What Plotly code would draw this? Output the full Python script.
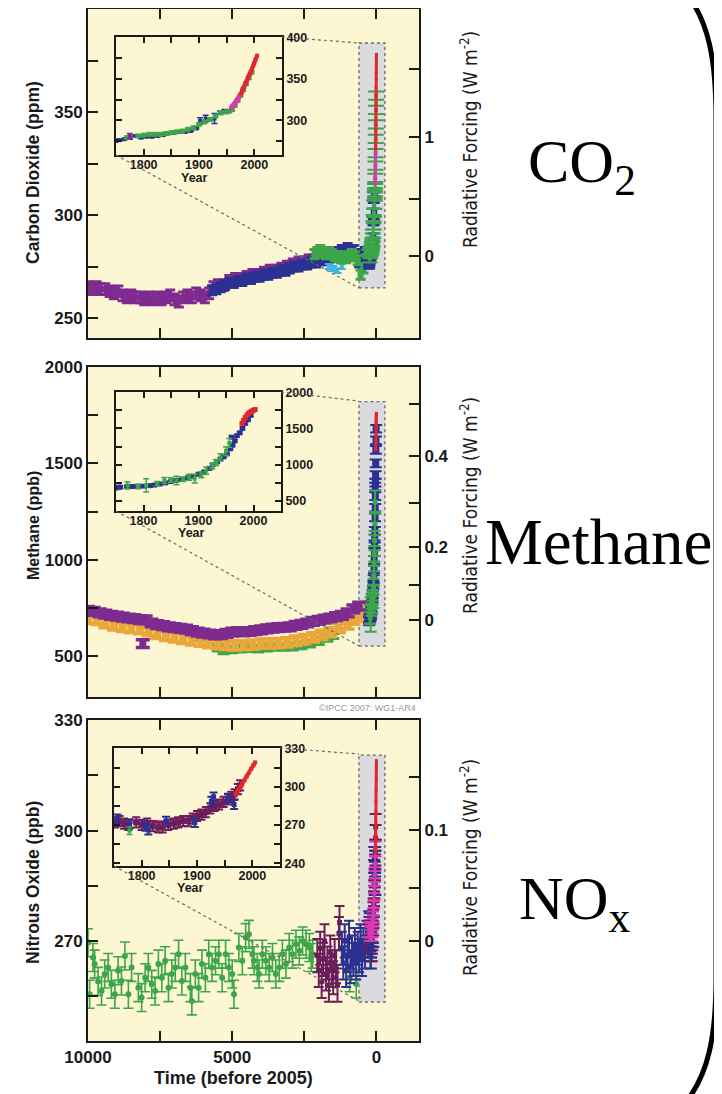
import plotly.graph_objects as go

# The page body has an 8px margin; the figure is sized to fill the rest of the window.
OX, OY = 8, 8
W, H = 722 - OX, 1094 - OY


def fx(p):
    return (p - OX) / W


def fy(p):
    return 1 - (p - OY) / H


# ======================= DATA =======================
# --- Carbon dioxide, Holocene (years before 2005, ppm)
co2_purple_bp = [10000, 9850, 9700, 9550, 9400, 9250, 9100, 8950, 8800, 8650, 8500, 8350, 8200, 8050,
                 7900, 7750, 7600, 7450, 7300, 7150, 7000, 6850, 6700, 6550, 6400, 6250, 6100, 5950,
                 5800, 5650, 5500, 5300, 5100, 4900, 4700, 4500, 4300, 4100, 3900, 3700, 3500, 3300,
                 3100, 2900, 2700, 2500, 2350, 2200]
co2_purple = [265, 264, 265, 264, 264, 263, 262, 263, 261, 260, 261, 260, 260, 259,
              260, 259, 260, 259, 260, 261, 259, 258, 260, 261, 260, 262, 261, 260,
              262, 265, 266, 266, 268, 269, 269, 270, 271, 271, 272, 273, 273, 274,
              275, 276, 277, 277, 278, 278]
co2_blue_bp = [5700, 5550, 5400, 5250, 5100, 4950, 4800, 4650, 4500, 4350, 4200, 4050, 3900, 3750,
               3600, 3450, 3300, 3150, 3000, 2850, 2700, 2550, 2400, 2250, 2100, 1950, 1800, 1650,
               1500, 1400, 1300, 1200, 1100, 1000, 900, 800, 700, 600, 500, 400, 300]
co2_blue = [263.5, 264, 265, 266, 267, 267, 268, 268, 269, 269, 270, 270, 271, 271,
            272, 272, 273, 273, 274, 275, 275, 276, 276, 277, 277, 278, 278, 279,
            280, 280, 282, 283, 281, 284, 282, 283, 281, 277, 280, 282, 281]
co2_green_bp = [2150, 2050, 1950, 1850, 1750, 1650, 1550, 1450, 1350, 1250, 1150, 1050, 950, 850,
                750, 650, 550, 450]
co2_green = [281, 282, 283, 282, 281, 282, 281, 280, 280, 279, 280, 279, 280, 281,
             280, 278, 271, 274]
co2_cyan_bp = [1650, 1500, 1350, 1200]
co2_cyan = [275, 274, 273, 275]

# --- Carbon dioxide, industrial era (calendar year, ppm)
co2_ld_year = [1750, 1755, 1765, 1775, 1785, 1795, 1805, 1815, 1825, 1835, 1845, 1855, 1865, 1875,
               1885, 1895, 1902, 1912, 1928, 1938, 1946]
co2_ld = [275, 276, 277, 279, 281, 279, 280, 280, 281, 282, 284, 285, 286, 286,
          287, 290, 299, 302, 302, 309, 311]
co2_ld_err = [1, 1, 1, 2, 1, 1, 1, 1, 1, 1, 1, 1, 1, 1, 1, 1, 4, 4, 6, 2, 2]
co2_gr_year = [1770, 1790, 1800, 1810, 1820, 1830, 1840, 1850, 1860, 1870, 1880, 1890, 1900, 1910,
               1920, 1930, 1940, 1950, 1955, 1960, 1965, 1970, 1975, 1980, 1985, 1990, 1995]
co2_gr = [279, 281, 282, 283, 283, 283, 284, 285, 286, 287, 289, 291, 295, 298,
          301, 305, 309, 310, 311, 313, 318, 324, 330, 337, 344, 351, 358]
co2_pu_year = [1775]
co2_pu = [281]
co2_mg_year = [1958, 1960, 1962, 1964, 1966, 1968, 1970, 1972, 1974, 1976, 1978]
co2_mg = [315, 317, 318, 319, 321, 323, 325, 327, 330, 332, 335]
co2_rd_year = [1976, 1978, 1980, 1982, 1984, 1986, 1988, 1990, 1992, 1994, 1996, 1998, 2000, 2002, 2005]
co2_rd = [332, 335, 339, 341, 344, 347, 351, 354, 356, 358, 362, 366, 369, 373, 378]

# --- Methane, Holocene (years before 2005, ppb)
ch4_purple_bp = [10000, 9800, 9600, 9400, 9200, 9000, 8800, 8600, 8400, 8200, 8000, 7800, 7600, 7400,
                 7200, 7000, 6800, 6600, 6400, 6200, 6000, 5800, 5600, 5400, 5200, 5000, 4800, 4600,
                 4400, 4200, 4000, 3800, 3600, 3400, 3200, 3000, 2800, 2600, 2400, 2200, 2000, 1800,
                 1600, 1400, 1200, 1000, 800, 600, 8100]
ch4_purple = [738, 732, 725, 718, 712, 708, 703, 698, 695, 690, 688, 672, 664, 658,
              652, 648, 644, 640, 632, 625, 620, 615, 610, 612, 618, 625, 628, 626,
              628, 632, 636, 642, 645, 648, 650, 652, 660, 665, 672, 680, 686, 692,
              698, 705, 712, 725, 745, 760, 565]
ch4_orange_bp = [10000, 9700, 9400, 9100, 8800, 8500, 8200, 7900, 7600, 7300, 7000, 6700, 6400, 6100,
                 5800, 5500, 5200, 4900, 4600, 4300, 4000, 3700, 3400, 3100, 2800, 2500, 2200, 1900,
                 1600, 1300, 1000, 800, 600, 400, 300]
ch4_orange = [695, 688, 672, 660, 652, 645, 640, 630, 615, 605, 598, 590, 582, 575,
              568, 562, 558, 556, 557, 560, 565, 566, 568, 572, 580, 588, 598, 610,
              625, 645, 665, 690, 705, 730, 760]
ch4_green_bp = [6800, 6600, 6400, 6100, 5800, 5500, 5300, 5000, 4700, 4400, 4100, 3800, 3500, 3200,
                2900, 2600, 2300, 2000, 1700, 1500]
ch4_green = [630, 625, 620, 600, 575, 545, 530, 535, 540, 542, 540, 545, 548, 548,
             550, 556, 565, 578, 595, 610]

# --- Methane, industrial era (calendar year, ppb)
ch4_bl_year = [1750, 1758, 1770, 1780, 1790, 1800, 1812, 1820, 1830, 1840, 1850, 1860, 1870, 1880,
               1890, 1900, 1910, 1920, 1926, 1934, 1940, 1946, 1952, 1958, 1962, 1966, 1970, 1975,
               1980, 1985, 1990, 1995, 1960]
ch4_bl = [680, 690, 700, 700, 705, 705, 712, 720, 735, 750, 770, 785, 800, 820,
          840, 870, 900, 950, 1000, 1040, 1080, 1110, 1150, 1220, 1270, 1330, 1400, 1440,
          1500, 1570, 1620, 1680, 1380]
ch4_gr_year = [1771, 1790, 1805, 1825, 1838, 1850, 1860, 1872, 1883, 1893, 1905, 1914, 1925, 1932,
               1940, 1950, 1956]
ch4_gr = [716, 700, 716, 740, 783, 790, 783, 800, 828, 810, 860, 918, 980, 1031,
          1100, 1188, 1300]
ch4_gr_err = [50, 30, 90, 30, 40, 30, 60, 30, 40, 60, 40, 50, 40, 40, 50, 60, 60]
ch4_rd_year = [1979, 1982, 1985, 1988, 1991, 1994, 1997, 2000, 2003]
ch4_rd = [1570, 1610, 1650, 1685, 1710, 1725, 1740, 1750, 1760]
ch4_pu_year = [1750, 1755]
ch4_pu = [685, 692]

# --- Nitrous oxide, Holocene (years before 2005, ppb)
n2o_green_bp = [10000, 9945, 9825, 9770, 9650, 9530, 9420, 9300, 9190, 9070, 8955, 8840, 8720, 8600,
                8490, 8255, 8140, 8020, 7910, 7790, 7675, 7560, 7440, 7325, 7210, 7095, 6975, 6860,
                6745, 6625, 6450, 6400, 6280, 6165, 6050, 5930, 5815, 5700, 5580, 5465, 5350, 5230,
                5115, 5000, 4940, 4770, 4650, 4535, 4420, 4300, 4245, 4130, 4070, 3955, 3835, 3720,
                3605, 3490, 3370, 3260, 3140, 3025, 2910, 2790, 2675, 2560, 2440, 2325, 2265, 2210,
                930, 700]
n2o_green = [269.5, 255.5, 265.5, 263.7, 259.0, 256.4, 261.0, 262.8, 258.2, 255.5, 261.9, 259.1, 265.9, 255.5,
             262.8, 257.3, 254.6, 260.0, 262.8, 258.2, 256.4, 263.7, 260.0, 264.6, 257.3, 261.0, 262.8, 266.4,
             259.1, 262.8, 257.3, 253.7, 261.0, 257.3, 263.7, 260.0, 266.4, 262.8, 264.6, 266.4, 260.0, 266.4,
             262.8, 261.0, 255.5, 268.2, 264.6, 270.9, 271.8, 266.4, 264.6, 262.8, 261.0, 266.4, 264.6, 262.8,
             265.5, 261.0, 262.8, 266.4, 263.7, 268.2, 266.4, 269.1, 267.3, 270.0, 269.1, 268.2, 265.5, 266.4,
             260.0, 258.3]
n2o_maroon_bp = [2050, 2000, 1950, 1900, 1850, 1800, 1750, 1700, 1650, 1600, 1550, 1500, 1450, 1400,
                 1350, 1300, 1280]
n2o_maroon = [266, 262, 268, 259, 265, 270, 261, 264, 258, 267, 262, 260, 266, 263,
              258, 272, 275]
n2o_blue_bp = [1200, 1150, 1100, 1050, 1000, 950, 900, 850, 800, 750, 700, 650, 600, 550,
               500, 450, 400, 350, 300, 260]
n2o_blue = [268, 264, 270, 262, 266, 271, 263, 267, 265, 269, 264, 268, 266, 270,
            265, 269, 267, 271, 270, 273]

# --- Nitrous oxide, industrial era (calendar year, ppb)
n2o_pk_year = [1750, 1760, 1770, 1780, 1790, 1800, 1810, 1820, 1830, 1840, 1850, 1860, 1870, 1880,
               1890, 1900, 1910, 1920, 1930, 1940, 1950, 1960, 1970]
n2o_pk = [273, 273, 272, 273, 272, 272, 272, 272, 272, 272, 273, 273, 274, 275,
          276, 277, 279, 281, 283, 285, 288, 291, 295]
n2o_mr_year = [1752, 1760, 1768, 1776, 1790, 1800, 1810, 1820, 1830, 1838, 1848, 1858, 1866, 1875,
               1884, 1892, 1900, 1908, 1916, 1924, 1932, 1940, 1948, 1956, 1962, 1968, 1974, 1978]
n2o_mr = [272, 273, 271, 270, 272, 270, 271, 269, 268, 268, 270, 271, 272, 273,
          273, 275, 277, 278, 280, 283, 285, 286, 288, 290, 292, 294, 298, 301]
n2o_bl_year = [1756, 1778, 1807, 1812, 1844, 1896, 1926, 1930, 1956, 1967]
n2o_bl = [274.6, 270.7, 269, 266, 273, 271.8, 288.5, 292, 291, 286]
n2o_gr_year = [1778]
n2o_gr = [265.5]
n2o_rd_year = [1970, 1974, 1978, 1982, 1986, 1990, 1994, 1998, 2002, 2005]
n2o_rd = [294, 297, 299, 302, 305, 308, 311, 314, 317, 319]

# --- Axis ticks
x_tick_vals = [10000, 7500, 5000, 2500, 0]
x_tick_text = ["10000", "", "5000", "", "0"]
inset_x_vals = [1800, 1850, 1900, 1950, 2000]
inset_x_text = ["1800", "", "1900", "", "2000"]

co2_y_vals = [250, 275, 300, 325, 350, 375]
co2_y_text = ["250", "", "300", "", "350", ""]
ch4_y_vals = [500, 750, 1000, 1250, 1500, 1750, 2000]
ch4_y_text = ["500", "", "1000", "", "1500", "", "2000"]
n2o_y_vals = [255, 270, 285, 300, 315, 330]
n2o_y_text = ["", "270", "", "300", "", "330"]

# radiative forcing ticks and the concentration at which each sits on the right axis
co2_rf_labels = ["0", "", "1", ""]
co2_rf_conc = [280.1, 307.8, 337.9, 370.9]
ch4_rf_labels = ["0", "", "0.2", "", "0.4", ""]
ch4_rf_conc = [686.5, 867.9, 1064.7, 1292.7, 1536.2, 1810.8]
n2o_rf_labels = ["0", "", "0.1", ""]
n2o_rf_conc = [270.0, 284.4, 300.1, 314.5]

co2_in_vals = [275, 300, 325, 350, 375, 400]
co2_in_text = ["", "300", "", "350", "", "400"]
ch4_in_vals = [500, 750, 1000, 1250, 1500, 1750, 2000]
ch4_in_text = ["500", "", "1000", "", "1500", "", "2000"]
n2o_in_vals = [240, 255, 270, 285, 300, 315, 330]
n2o_in_text = ["240", "", "270", "", "300", "", "330"]

# ======================= STYLE =======================
PURPLE = "#7E2B8F"
BLUE = "#2B3192"
GREEN = "#3CA649"
CYAN = "#3BB4E6"
RED = "#E2282E"
MAGENTA = "#D93AAE"
ORANGE = "#EAA73A"
MAROON = "#6C1E5A"
PINK = "#E8449E"
YELLOW_BG = "#FDF6D2"
GRAY_BG = "#D9DBDF"
INK = "#1a1a1a"
SANS = "Liberation Sans, Arial, Helvetica, sans-serif"
NARROW = "Liberation Sans Narrow, Arial Narrow, DejaVu Sans Condensed, sans-serif"
SERIF = "Liberation Serif, Times New Roman, serif"

fig = go.Figure()


def bp(years):
    return [2005 - y for y in years]


def add_pts(x, y, color, xa, ya, size=5, symbol="square", err=None, ew=4, et=2,
            mode="markers", lw=2):
    tr = go.Scatter(x=x, y=y, mode=mode, xaxis=xa, yaxis=ya, showlegend=False,
                    hoverinfo="skip", cliponaxis=True,
                    marker=dict(color=color, size=size, symbol=symbol, line=dict(width=0)))
    if err is not None:
        if isinstance(err, list):
            tr.error_y = dict(type="data", array=err, color=color, thickness=et, width=ew)
        else:
            tr.error_y = dict(type="constant", value=err, color=color, thickness=et, width=ew)
    if "lines" in mode:
        tr.line = dict(color=color, width=lw)
    fig.add_trace(tr)


# ---------- Panel 1: CO2 main ----------
add_pts(co2_purple_bp, co2_purple, PURPLE, "x", "y", size=6, err=2.6, ew=5, et=3)
add_pts(co2_blue_bp, co2_blue, BLUE, "x", "y", size=6, err=2.2, ew=5, et=3)
add_pts(co2_cyan_bp, co2_cyan, CYAN, "x", "y", size=4, err=1.2, ew=4, et=2)
add_pts(co2_green_bp, co2_green, GREEN, "x", "y", size=6, err=2.2, ew=5, et=3)
add_pts(bp(co2_ld_year), co2_ld, BLUE, "x", "y", size=6, err=co2_ld_err, ew=6, et=2.5)
add_pts(bp(co2_gr_year), co2_gr, GREEN, "x", "y", size=4, err=2, ew=8, et=2)
add_pts(bp(co2_mg_year), co2_mg, MAGENTA, "x", "y", size=3, mode="lines+markers", lw=3)
add_pts(bp(co2_rd_year), co2_rd, RED, "x", "y", size=3, mode="lines+markers", lw=3)
fig.add_trace(go.Scatter(x=[None], y=[None], xaxis="x", yaxis="y2", showlegend=False))

# ---------- Panel 1: CO2 inset ----------
add_pts(co2_ld_year, co2_ld, BLUE, "x7", "y7", size=4, err=co2_ld_err, ew=3, et=1.5)
add_pts(co2_gr_year, co2_gr, GREEN, "x7", "y7", size=5, err=1.5, ew=3, et=1.5)
add_pts(co2_pu_year, co2_pu, PURPLE, "x7", "y7", size=4, err=3, ew=3, et=1.5)
add_pts(co2_mg_year, co2_mg, MAGENTA, "x7", "y7", size=4, mode="lines+markers", lw=4)
add_pts(co2_rd_year, co2_rd, RED, "x7", "y7", size=4, mode="lines+markers", lw=4)

# ---------- Panel 2: CH4 main ----------
add_pts(ch4_green_bp, ch4_green, GREEN, "x3", "y3", size=6, err=18, ew=6, et=3)
add_pts(ch4_orange_bp, ch4_orange, ORANGE, "x3", "y3", size=8, err=24, ew=7, et=3.5)
add_pts(ch4_purple_bp, ch4_purple, PURPLE, "x3", "y3", size=7, err=20, ew=7, et=3.5)
add_pts(bp(ch4_pu_year), ch4_pu, PURPLE, "x3", "y3", size=5, err=15, ew=6, et=2)
add_pts(bp(ch4_bl_year), ch4_bl, BLUE, "x3", "y3", size=7, err=20, ew=6, et=2)
add_pts(bp(ch4_gr_year), ch4_gr, GREEN, "x3", "y3", size=5, err=ch4_gr_err, ew=6, et=2)
add_pts(bp(ch4_rd_year), ch4_rd, RED, "x3", "y3", size=3, mode="lines+markers", lw=3)
fig.add_trace(go.Scatter(x=[None], y=[None], xaxis="x3", yaxis="y4", showlegend=False))

# ---------- Panel 2: CH4 inset ----------
add_pts(ch4_pu_year, ch4_pu, PURPLE, "x8", "y8", size=5, err=15, ew=3, et=1.5)
add_pts(ch4_bl_year, ch4_bl, BLUE, "x8", "y8", size=5, err=15, ew=3, et=1.5)
add_pts(ch4_gr_year, ch4_gr, GREEN, "x8", "y8", size=4, err=ch4_gr_err, ew=3, et=1.5)
add_pts(ch4_rd_year, ch4_rd, RED, "x8", "y8", size=5, mode="lines+markers", lw=4)

# ---------- Panel 3: N2O main ----------
add_pts(n2o_green_bp, n2o_green, GREEN, "x5", "y5", size=6, symbol="circle", err=3.8, ew=5, et=1.6)
add_pts(n2o_maroon_bp, n2o_maroon, MAROON, "x5", "y5", size=5, err=4.5, ew=5, et=2)
add_pts(n2o_blue_bp, n2o_blue, BLUE, "x5", "y5", size=5, err=4.5, ew=5, et=2)
add_pts(bp(n2o_gr_year), n2o_gr, GREEN, "x5", "y5", size=4, err=3, ew=5, et=1.5)
add_pts(bp(n2o_mr_year), n2o_mr, MAROON, "x5", "y5", size=5, err=3.5, ew=6, et=2)
add_pts(bp(n2o_bl_year), n2o_bl, BLUE, "x5", "y5", size=5, err=3.5, ew=6, et=2)
add_pts(bp(n2o_pk_year), n2o_pk, MAGENTA, "x5", "y5", size=4, err=2, ew=6, et=2)
add_pts(bp(n2o_rd_year), n2o_rd, RED, "x5", "y5", size=3, mode="lines+markers", lw=3)
fig.add_trace(go.Scatter(x=[None], y=[None], xaxis="x5", yaxis="y6", showlegend=False))

# ---------- Panel 3: N2O inset ----------
add_pts(n2o_pk_year, n2o_pk, PINK, "x9", "y9", size=5, mode="lines+markers", lw=4)
add_pts(n2o_mr_year, n2o_mr, MAROON, "x9", "y9", size=6, err=4, ew=4, et=2)
add_pts(n2o_bl_year, n2o_bl, BLUE, "x9", "y9", size=5, err=3.5, ew=4, et=2)
add_pts(n2o_gr_year, n2o_gr, GREEN, "x9", "y9", size=4, err=3, ew=3, et=1.5)
add_pts(n2o_rd_year, n2o_rd, RED, "x9", "y9", size=4, mode="lines+markers", lw=4)

# ======================= LAYOUT =======================
main_xd = [fx(88), fx(419)]
panel_yd = [[fy(338), fy(9)], [fy(697), fy(367)], [fy(1041), fy(720)]]
inset_xd = [[fx(116), fx(282)], [fx(116), fx(281)], [fx(114), fx(280)]]
inset_yd = [[fy(155), fy(37)], [fy(511), fy(392)], [fy(866), fy(748)]]
main_yr = [[240.3, 400], [288, 2000.5], [242.8, 330.05]]
inset_yr = [[258, 400.5], [363, 2002], [237.8, 330.3]]
x_range = [10000, -1475]

axis_common = dict(showline=True, linewidth=2, linecolor=INK, ticks="inside", ticklen=10,
                   tickwidth=2, tickcolor=INK, showgrid=False, zeroline=False,
                   tickmode="array", automargin=False,
                   tickfont=dict(family=SANS, size=17, color=INK, weight="bold"))
inset_common = dict(showline=True, linewidth=1.8, linecolor=INK, ticks="inside", ticklen=6,
                    tickwidth=1.6, tickcolor=INK, showgrid=False, zeroline=False,
                    mirror="ticks", tickmode="array", automargin=False,
                    tickfont=dict(family=SANS, size=12.5, color=INK, weight="bold"))

lay = dict(width=W, height=H, autosize=False, margin=dict(l=0, r=0, t=0, b=0, pad=0),
           paper_bgcolor="white", plot_bgcolor=YELLOW_BG, showlegend=False)

main_x_names = ["xaxis", "xaxis3", "xaxis5"]
main_y_names = ["yaxis", "yaxis3", "yaxis5"]
right_y_names = ["yaxis2", "yaxis4", "yaxis6"]
main_x_ids = ["x", "x3", "x5"]
main_y_ids = ["y", "y3", "y5"]
left_vals = [(co2_y_vals, co2_y_text), (ch4_y_vals, ch4_y_text), (n2o_y_vals, n2o_y_text)]
right_vals = [(co2_rf_conc, co2_rf_labels), (ch4_rf_conc, ch4_rf_labels), (n2o_rf_conc, n2o_rf_labels)]
inset_vals = [(co2_in_vals, co2_in_text), (ch4_in_vals, ch4_in_text), (n2o_in_vals, n2o_in_text)]

for i in range(3):
    lay[main_x_names[i]] = dict(axis_common, domain=main_xd, anchor=main_y_ids[i], range=x_range,
                                mirror="ticks", tickvals=x_tick_vals, ticktext=x_tick_text,
                                showticklabels=(i == 2))
    lay[main_y_names[i]] = dict(axis_common, domain=panel_yd[i], anchor=main_x_ids[i],
                                range=main_yr[i], tickvals=left_vals[i][0], ticktext=left_vals[i][1])
    lay[right_y_names[i]] = dict(axis_common, overlaying=main_y_ids[i], anchor=main_x_ids[i],
                                 side="right", range=main_yr[i], tickvals=right_vals[i][0],
                                 ticktext=right_vals[i][1])
    xi, yi = f"xaxis{7 + i}", f"yaxis{7 + i}"
    lay[xi] = dict(inset_common, domain=inset_xd[i], anchor=f"y{7 + i}", range=[1750, 2050],
                   tickvals=inset_x_vals, ticktext=inset_x_text, ticklabelstandoff=-3)
    lay[yi] = dict(inset_common, domain=inset_yd[i], anchor=f"x{7 + i}", side="right",
                   range=inset_yr[i], tickvals=inset_vals[i][0], ticktext=inset_vals[i][1])

shapes = []
# inset backgrounds
for i in range(3):
    shapes.append(dict(type="rect", xref=f"x{7 + i} domain", yref=f"y{7 + i} domain",
                       x0=0, x1=1, y0=0, y1=1, fillcolor=GRAY_BG, line=dict(width=0), layer="below"))
# highlighted windows on the main axes
box_y = [[264.6, 383.5], [552, 1821], [253.4, 320.5]]
for i in range(3):
    shapes.append(dict(type="rect", xref=main_x_ids[i], yref=main_y_ids[i], x0=607, x1=-295,
                       y0=box_y[i][0], y1=box_y[i][1], fillcolor=GRAY_BG,
                       line=dict(color="#6a6a6a", width=1.3, dash="dot"), layer="below"))
# dotted connectors (pixel positions of inset corners and window corners)
connectors = [((282, 37), (359, 43)), ((116, 155), (359, 288)),
              ((281, 392), (359, 401)), ((116, 511), (359, 646)),
              ((280, 748), (359, 754)), ((114, 866), (359, 1001))]
for (a, b) in connectors:
    shapes.append(dict(type="line", xref="paper", yref="paper", x0=fx(a[0]), y0=fy(a[1]),
                       x1=fx(b[0]), y1=fy(b[1]), line=dict(color="#6a6a6a", width=1.2, dash="dot"),
                       layer="above"))


# big right-hand bracket
def P(x, y):
    return f"{fx(x):.5f},{fy(y):.5f}"


brace = (f"M {P(689, -3)} C {P(707, 22)} {P(716, 55)} {P(716, 118)} L {P(716, 978)} "
         f"C {P(716, 1040)} {P(707, 1073)} {P(689, 1098)}")
shapes.append(dict(type="path", xref="paper", yref="paper", path=brace,
                   line=dict(color="black", width=5), layer="above"))
lay["shapes"] = shapes


def ann(text, x, y, size, family, weight="normal", angle=0, xanchor="center",
        yanchor="middle", color=INK):
    return dict(text=text, x=fx(x), y=fy(y), xref="paper", yref="paper", showarrow=False,
                font=dict(size=size, family=family, weight=weight, color=color),
                textangle=angle, xanchor=xanchor, yanchor=yanchor)


annotations = [
    ann("Carbon Dioxide (ppm)", 33, 173, 17.5, SANS, "bold", -90),
    ann("Methane (ppb)", 33, 526, 16, SANS, "bold", -90),
    ann("Nitrous Oxide (ppb)", 33, 883, 17.5, SANS, "bold", -90),
    ann("Radiative Forcing (W m<sup>-2</sup>)", 469, 140, 19, NARROW, "normal", -90),
    ann("Radiative Forcing (W m<sup>-2</sup>)", 469, 506, 19, NARROW, "normal", -90),
    ann("Radiative Forcing (W m<sup>-2</sup>)", 469, 868, 19, NARROW, "normal", -90),
    ann("Year", 194, 178, 12.5, SANS, "bold"),
    ann("Year", 192, 533, 12.5, SANS, "bold"),
    ann("Year", 190, 888, 12.5, SANS, "bold"),
    ann("Time (before 2005)", 233, 1078, 18, SANS, "bold"),
    ann("©IPCC 2007: WG1-AR4", 418, 708, 9, SANS, "normal", 0, "right", "middle", "#9a9a9a"),
    ann("CO<sub>2</sub>", 526, 165, 62, SERIF, "normal", 0, "left", "middle", "black"),
    ann("Methane", 483, 542, 65, SERIF, "normal", 0, "left", "middle", "black"),
    ann("NO<sub>x</sub>", 517, 902, 62, SERIF, "normal", 0, "left", "middle", "black"),
]
lay["annotations"] = annotations

fig.update_layout(**lay)
fig.write_html("out.html")
